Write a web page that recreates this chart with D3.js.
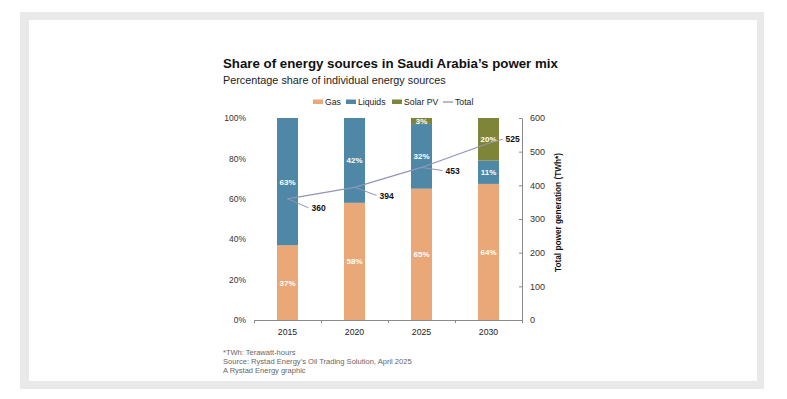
<!DOCTYPE html>
<html><head><meta charset="utf-8">
<script src="https://cdn.jsdelivr.net/npm/d3@7"></script>
<style>
html,body{margin:0;padding:0;background:#fff;}
svg{display:block;font-family:"Liberation Sans",Arial,sans-serif;}
</style></head>
<body>
<svg id="chart" width="787" height="399"></svg>
<script>
// ---- data ----
const years = ["2015", "2020", "2025", "2030"];
const gas = [37, 58, 65, 64];
const liquids = [63, 42, 32, 11];
const solar = [0, 0, 3, 20];
const total = [360, 394, 453, 525];
const pctTicks = [0, 0.2, 0.4, 0.6, 0.8, 1];
const twhTicks = [0, 100, 200, 300, 400, 500, 600];
const seriesNames = ["Gas", "Liquids", "Solar PV"];
const seriesColors = ["#eaa777", "#4f88a7", "#7f8538"];
const lineColor = "#9195b8";

const rows = years.map((y, i) => ({year: y, Gas: gas[i], Liquids: liquids[i], "Solar PV": solar[i], total: total[i]}));

const svg = d3.select("#chart");

// card frame
svg.append("rect").attr("x", 20).attr("y", 12).attr("width", 744).attr("height", 377).attr("fill", "#e9e9e9");
svg.append("rect").attr("x", 29).attr("y", 20).attr("width", 728).attr("height", 361).attr("fill", "#fff");

function fit(sel, w) {
  const len = sel.node().getComputedTextLength();
  const fs = parseFloat(sel.attr("font-size"));
  sel.attr("font-size", (fs * w / len).toFixed(2));
}

// titles
fit(svg.append("text").attr("x", 223).attr("y", 68).attr("font-size", 14).attr("font-weight", "bold").attr("fill", "#111")
  .text("Share of energy sources in Saudi Arabia\u2019s power mix"), 335);
fit(svg.append("text").attr("x", 223).attr("y", 84).attr("font-size", 12).attr("fill", "#222")
  .text("Percentage share of individual energy sources"), 223);

// scales
const x = d3.scaleBand().domain(years).range([254, 522]).paddingInner(0).paddingOuter(0);
const xEdge = d3.scaleLinear().domain([0, years.length]).range([254, 522]);
const y = d3.scaleLinear().domain([0, 1]).range([320, 118]);
const yR = d3.scaleLinear().domain([0, 600]).range([320, 118]);
const barW = 21;

// stack
const stack = d3.stack().keys(seriesNames).offset(d3.stackOffsetExpand);
const stacked = stack(rows);

const gBars = svg.append("g");
stacked.forEach((s, si) => {
  gBars.selectAll(null).data(s).enter().append("rect")
    .attr("x", d => x(d.data.year) + x.bandwidth() / 2 - barW / 2)
    .attr("width", barW)
    .attr("y", d => y(d[1]))
    .attr("height", d => Math.max(0, y(d[0]) - y(d[1])))
    .attr("fill", seriesColors[si]);
});

// left axis
const axL = svg.append("g").attr("transform", "translate(254,0)")
  .call(d3.axisLeft(y).tickValues(pctTicks).tickFormat(d3.format(".0%")).tickSize(0).tickPadding(8));
axL.select(".domain").remove();
axL.selectAll("text").attr("font-size", 8.5).attr("fill", "#333").attr("font-family", "Liberation Sans, Arial, sans-serif");

// right axis
const axR = svg.append("g").attr("transform", "translate(522,0)")
  .call(d3.axisRight(yR).tickValues(twhTicks).tickSizeInner(-3).tickSizeOuter(0).tickPadding(8));
axR.select(".domain").attr("stroke", "#8a8a8a");
axR.selectAll("line").attr("stroke", "#8a8a8a");
axR.selectAll("text").attr("font-size", 9).attr("fill", "#333").attr("font-family", "Liberation Sans, Arial, sans-serif");

// bottom axis: boundary ticks + labels
const axB = svg.append("g").attr("transform", "translate(0,320)")
  .call(d3.axisBottom(xEdge).ticks(years.length).tickFormat("").tickSizeInner(3).tickSizeOuter(0));
axB.select(".domain").attr("stroke", "#8a8a8a");
axB.selectAll("line").attr("stroke", "#8a8a8a");
const axB2 = svg.append("g").attr("transform", "translate(0,320)")
  .call(d3.axisBottom(x).tickSize(0).tickPadding(9));
axB2.select(".domain").remove();
axB2.selectAll("text").attr("font-size", 8.7).attr("fill", "#222").attr("font-family", "Liberation Sans, Arial, sans-serif");

// right axis title
fit(svg.append("text").attr("transform", "translate(561,212.5) rotate(-90)").attr("text-anchor", "middle")
  .attr("font-size", 9.5).attr("font-weight", "bold").attr("fill", "#111")
  .text("Total power generation (TWh*)"), 119);

// segment labels
stacked.forEach((s, si) => {
  svg.append("g").selectAll(null).data(s.filter(d => d.data[s.key] > 0)).enter().append("text")
    .attr("x", d => x(d.data.year) + x.bandwidth() / 2)
    .attr("y", d => (y(d[0]) + y(d[1])) / 2 + 3)
    .attr("text-anchor", "middle").attr("font-size", 8).attr("font-weight", "bold").attr("fill", "#fff")
    .text(d => d.data[s.key] + "%");
});

// total line
const line = d3.line().x(d => x(d.year) + x.bandwidth() / 2).y(d => yR(d.total));
svg.append("path").datum(rows).attr("d", line).attr("fill", "none").attr("stroke", lineColor).attr("stroke-width", 1.3);

// total labels with leaders
const leadDx = [21, 22, 21, 14];
const leadDy = [9, 8, 3, -4];
rows.forEach((d, i) => {
  const px = x(d.year) + x.bandwidth() / 2, py = yR(d.total);
  svg.append("line").attr("x1", px).attr("y1", py).attr("x2", px + leadDx[i]).attr("y2", py + leadDy[i])
    .attr("stroke", lineColor).attr("stroke-width", 1);
  svg.append("text").attr("x", px + leadDx[i] + 3).attr("y", py + leadDy[i] + 3.2)
    .attr("font-size", 8.5).attr("font-weight", "bold").attr("fill", "#111").text(d.total);
});

// legend
const leg = svg.append("g");
const legItems = [
  {name: "Gas", color: seriesColors[0], x: 313, type: "rect"},
  {name: "Liquids", color: seriesColors[1], x: 346, type: "rect"},
  {name: "Solar PV", color: seriesColors[2], x: 392, type: "rect"},
  {name: "Total", color: lineColor, x: 443, type: "line"}
];
legItems.forEach(it => {
  if (it.type === "rect") leg.append("rect").attr("x", it.x).attr("y", 99.5).attr("width", 10).attr("height", 4.5).attr("fill", it.color);
  else leg.append("line").attr("x1", it.x).attr("x2", it.x + 10).attr("y1", 102).attr("y2", 102).attr("stroke", "#777").attr("stroke-width", 1);
  leg.append("text").attr("x", it.x + 12).attr("y", 105).attr("font-size", 8.7).attr("fill", "#222").text(it.name);
});

// footnotes
const notes = ["*TWh: Terawatt-hours", "Source: Rystad Energy\u2019s Oil Trading Solution, April 2025", "A Rystad Energy graphic"];
notes.forEach((t, i) => {
  const s = svg.append("text").attr("x", 223).attr("y", 355 + i * 9).attr("font-size", 7.5).attr("fill", "#666").text(t);
  if (i === 1) fit(s, 189);
});
</script>
</body></html>
